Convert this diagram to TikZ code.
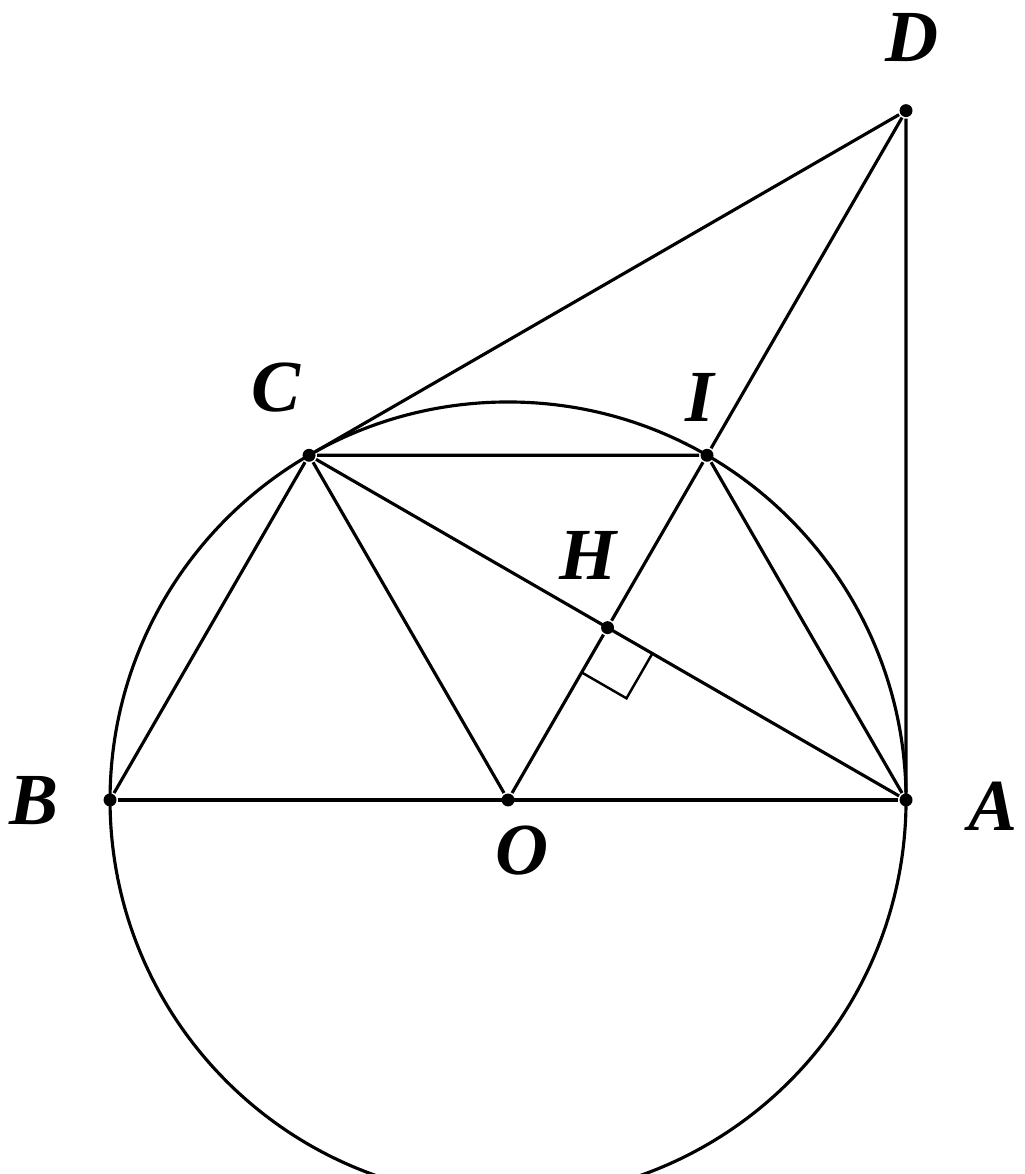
\documentclass[tikz,border=0pt]{standalone}
\usepackage{fontspec}
\setmainfont{Liberation Serif}
\usepackage{tikz}

\begin{document}
\begin{tikzpicture}[pt/.style = {circle, fill=black, minimum size=1.3mm, inner sep=0pt},
                    lbl/.style = {font=\fontsize{21}{25}\selectfont\bfseries\itshape, inner sep=0pt},
                    line width=0.9pt]
            \useasboundingbox (-5.106,-3.759) rectangle (5.186,8.040);
            \clip (-5.106,-3.759) rectangle (5.186,8.040);

            \node[pt] (O) at (0,0) {};
            \node[pt] (A) at (  0:4cm) {};
            \node[pt] (B) at (180:4cm) {};
            \node[pt] (C) at (120:4cm) {};
            \node[pt] (I) at ( 60:4cm) {};
            \node[pt] (H) at ( 60:2cm) {};
            \node[pt] (D) at (4, 6.928) {};

            \draw (O.center) circle (4cm);

            \draw (B) -- (A);
            \draw (C) -- (D) -- (A);
            \draw (C) -- (I) -- (A);
            \draw (B) -- (C) -- (O);
            \draw (C) -- (A);
            \draw (D) -- (I) -- (H) -- (O);

            % right angle at H
            \draw[line width=0.7pt] (H.center) ++(240:0.52) -- ++(330:0.52) -- ++(60:0.52);

            \node[lbl] (lA) at (4.87, -0.06) {A};
            \node[lbl] (lB) at (-4.76, -0.01) {B};
            \node[lbl] (lC) at (-2.33, 4.14) {C};
            \node[lbl] (lD) at (4.06, 7.66) {D};
            \node[lbl] (lI) at (1.93, 4.05) {I};
            \node[lbl] (lH) at (0.80, 2.46) {H};
            \node[lbl] (lO) at (0.14, -0.51) {O};
        \end{tikzpicture}
\end{document}
